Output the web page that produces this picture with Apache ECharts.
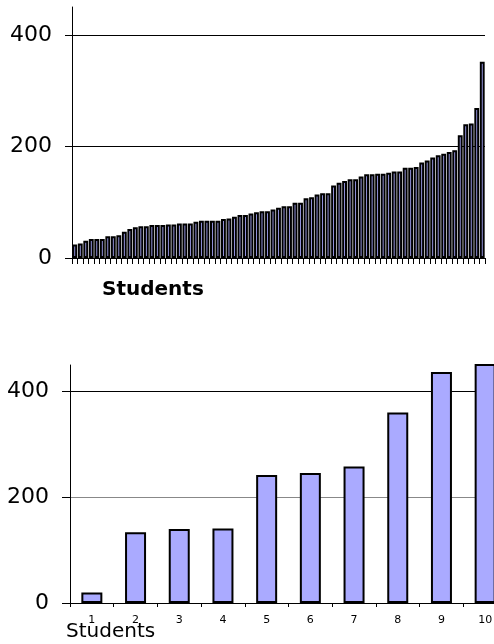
<!DOCTYPE html>
<html>
<head>
<meta charset="utf-8">
<script src="https://cdn.jsdelivr.net/npm/echarts@6/dist/echarts.min.js"></script>
<style>
html,body{margin:0;padding:0;background:#fff;overflow:hidden;width:494px;height:644px;}
#chart{width:510px;height:644px;}
</style>
</head>
<body>
<div id="chart"></div>
<script>
// Top chart: 75 students sorted
const topValues = [
  24, 26, 31, 34, 34, 34, 39, 39, 41, 47, 52, 55, 57, 57, 59, 59, 59, 60, 60,
  62, 62, 62, 65, 67, 67, 67, 67, 70, 71, 74, 77, 77, 80, 82, 84, 84, 87, 90,
  93, 93, 99, 99, 107, 109, 114, 116, 116, 130, 135, 138, 141, 141, 146, 150, 150, 151, 151,
  153, 155, 155, 162, 162, 163, 171, 175, 180, 184, 187, 190, 193, 220, 240, 241, 269, 352
];
const topCategories = topValues.map((v, i) => String(i + 1));

// Bottom chart: 10 students
const bottomCategories = ['1', '2', '3', '4', '5', '6', '7', '8', '9', '10'];
const bottomValues = [20, 134, 140, 141, 242, 246, 258, 360, 437, 480];

const yTickValues = [0, 200, 400];
const axisTitle = 'Students';

const FONT = 'DejaVu Sans';
const BAR_FILL = '#aaaaff';

const chart = echarts.init(document.getElementById('chart'), null, {renderer: 'canvas'});

function yAxisCfg(gridIndex, labelMargin, tickLen, splitColors) {
  return {
    type: 'value', gridIndex: gridIndex, min: 0, max: 450, interval: 200,
    axisLine: {show: true, lineStyle: {color: '#000', width: 1}},
    axisTick: {show: true, length: tickLen, customValues: yTickValues, lineStyle: {color: '#000', width: 1}},
    axisLabel: {
      customValues: yTickValues,
      formatter: v => (yTickValues.indexOf(v) >= 0 ? String(v) : ''),
      color: '#000', fontFamily: FONT, fontSize: 22, margin: labelMargin
    },
    splitLine: {show: true, lineStyle: {color: splitColors, width: 1}}
  };
}

const option = {
  animation: false,
  backgroundColor: '#fff',
  textStyle: {fontFamily: FONT},
  title: [
    {text: axisTitle, left: 97, top: 275,
     textStyle: {fontFamily: FONT, fontSize: 20, fontWeight: 'bold', color: '#000'}},
    {text: axisTitle, left: 61, top: 617,
     textStyle: {fontFamily: FONT, fontSize: 20, fontWeight: 'normal', color: '#000'}}
  ],
  grid: [
    {left: 72, width: 413, top: 7, height: 251, containLabel: false},
    {left: 70, width: 437, top: 365, height: 238, containLabel: false}
  ],
  xAxis: [
    {
      type: 'category', gridIndex: 0, data: topCategories,
      axisLine: {show: true, lineStyle: {color: '#000', width: 1}},
      axisTick: {show: true, interval: 0, length: 6, lineStyle: {color: '#000', width: 1}},
      axisLabel: {show: false},
      splitLine: {show: false}
    },
    {
      type: 'category', gridIndex: 1, data: bottomCategories,
      axisLine: {show: true, lineStyle: {color: '#000', width: 1}},
      axisTick: {show: true, interval: 0, length: 4, lineStyle: {color: '#000', width: 1}},
      axisLabel: {show: true, interval: 0, color: '#000', fontFamily: FONT, fontSize: 11, margin: 12},
      splitLine: {show: false}
    }
  ],
  yAxis: [
    yAxisCfg(0, 20, 7, ['#000', '#000', '#000', 'rgba(0,0,0,0)']),
    yAxisCfg(1, 21, 8, ['#000', '#888', '#000', 'rgba(0,0,0,0)'])
  ],
  series: [
    {
      type: 'bar', xAxisIndex: 0, yAxisIndex: 0, data: topValues,
      barCategoryGap: '12%',
      itemStyle: {color: BAR_FILL, borderColor: '#000', borderWidth: 2},
      clip: true
    },
    {
      type: 'bar', xAxisIndex: 1, yAxisIndex: 1, data: bottomValues,
      barWidth: 21,
      itemStyle: {color: BAR_FILL, borderColor: '#000', borderWidth: 2},
      clip: true
    }
  ]
};
chart.setOption(option);
</script>
</body>
</html>
